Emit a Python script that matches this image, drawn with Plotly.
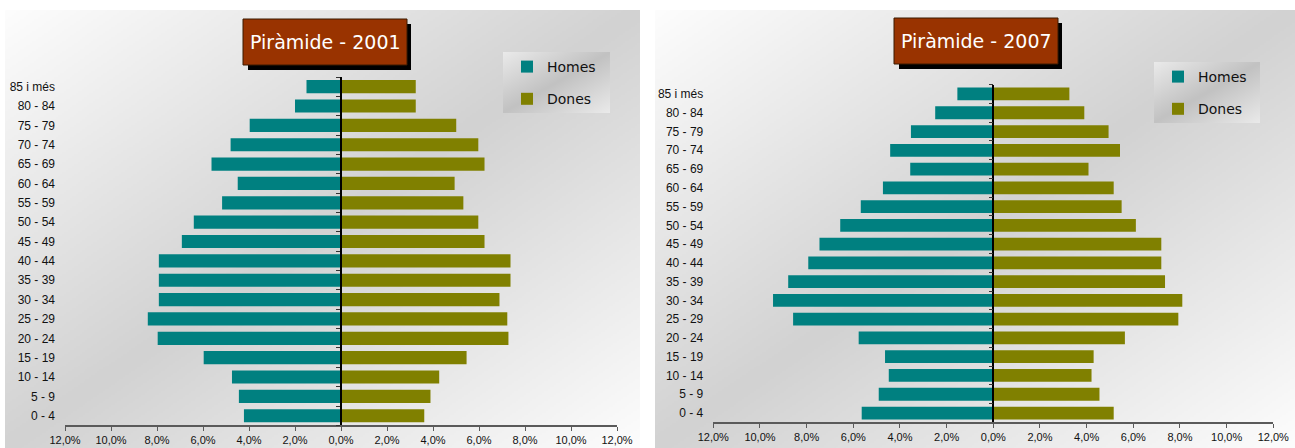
import base64
import struct
import zlib

import numpy as np
import plotly.graph_objects as go

# ---------------- data ----------------
ages = ["0 - 4", "5 - 9", "10 - 14", "15 - 19", "20 - 24", "25 - 29", "30 - 34",
        "35 - 39", "40 - 44", "45 - 49", "50 - 54", "55 - 59", "60 - 64", "65 - 69",
        "70 - 74", "75 - 79", "80 - 84", "85 i més"]

homes_2001 = [4.22, 4.44, 4.74, 5.97, 7.97, 8.40, 7.92, 7.92, 7.92, 6.92, 6.40, 5.17,
              4.49, 5.63, 4.80, 3.97, 2.00, 1.50]
dones_2001 = [3.62, 3.89, 4.27, 5.46, 7.28, 7.23, 6.89, 7.37, 7.37, 6.24, 5.97, 5.32,
              4.94, 6.24, 5.97, 5.01, 3.25, 3.25]

homes_2007 = [5.64, 4.91, 4.48, 4.64, 5.77, 8.58, 9.44, 8.79, 7.93, 7.45, 6.56, 5.68,
              4.73, 3.56, 4.42, 3.53, 2.49, 1.54]
dones_2007 = [5.16, 4.55, 4.21, 4.30, 5.64, 7.93, 8.10, 7.36, 7.20, 7.20, 6.11, 5.50,
              5.16, 4.08, 5.43, 4.94, 3.90, 3.26]

tick_vals = [-12, -10, -8, -6, -4, -2, 0, 2, 4, 6, 8, 10, 12]
tick_text = ["12,0%", "10,0%", "8,0%", "6,0%", "4,0%", "2,0%", "0,0%",
             "2,0%", "4,0%", "6,0%", "8,0%", "10,0%", "12,0%"]

titles = ["Piràmide - 2001", "Piràmide - 2007"]

# ---------------- styling ----------------
W, H = 1295, 448
C_HOMES = "#008080"
C_DONES = "#808000"
TITLE_BG = "#993300"
FONT = "Liberation Sans, Arial, sans-serif"
TFONT = "DejaVu Sans, Verdana, sans-serif"


def gradient_png(w, h, end, mid):
    u = np.linspace(0, 1, w)[None, :]
    v = np.linspace(0, 1, h)[:, None]
    t = (u + v) / 2.0
    k = 1 - np.abs(2 * t - 1)
    arr = (end - (end - mid) * k).clip(0, 255).astype(np.uint8)
    raw = b"".join(b"\x00" + row.tobytes() for row in arr)

    def chunk(tag, data):
        return (struct.pack(">I", len(data)) + tag + data
                + struct.pack(">I", zlib.crc32(tag + data) & 0xFFFFFFFF))

    ihdr = struct.pack(">IIBBBBB", w, h, 8, 0, 0, 0, 0)
    png = (b"\x89PNG\r\n\x1a\n" + chunk(b"IHDR", ihdr)
           + chunk(b"IDAT", zlib.compress(raw, 9)) + chunk(b"IEND", b""))
    return "data:image/png;base64," + base64.b64encode(png).decode()


def px(x):
    return x / W


def py(y):
    return 1 - y / H


panel_img = gradient_png(320, 220, 253, 210)
legend_img = gradient_png(107, 61, 234, 194)

# panel geometry (pixels)
panels = [
    dict(px0=5, px1=640, py0=10, xdom=(65, 617), ydom=(77.0, 425.4),
         title_box=(243, 407, 19, 65), legend_box=(503, 610, 52, 113)),
    dict(px0=655, px1=1295, py0=10, xdom=(713.3, 1273.3), ydom=(84.6, 422.4),
         title_box=(894, 1058, 18, 64), legend_box=(1154, 1260, 62, 123)),
]

series = [(homes_2001, dones_2001), (homes_2007, dones_2007)]

fig = go.Figure()
layout = dict(
    width=W, height=H,
    margin=dict(l=0, r=0, t=0, b=0, autoexpand=False),
    paper_bgcolor="white",
    plot_bgcolor="rgba(0,0,0,0)",
    barmode="overlay",
    bargap=0.32,
    showlegend=True,
    images=[], shapes=[], annotations=[],
    font=dict(family=FONT, size=12, color="black"),
)

for i, (p, (hom, don)) in enumerate(zip(panels, series)):
    xa = "x" if i == 0 else "x2"
    ya_lab = "y" if i == 0 else "y3"
    ya_mid = "y2" if i == 0 else "y4"
    xkey = "xaxis" if i == 0 else "xaxis2"
    ykey_lab = "yaxis" if i == 0 else "yaxis3"
    ykey_mid = "yaxis2" if i == 0 else "yaxis4"
    leg = "legend" if i == 0 else "legend2"

    xd = [px(p["xdom"][0]), px(p["xdom"][1])]
    yd = [py(p["ydom"][1]), py(p["ydom"][0])]

    fig.add_trace(go.Bar(
        y=ages, x=[-v for v in hom], orientation="h", name="Homes",
        marker=dict(color=C_HOMES, line=dict(width=0)),
        xaxis=xa, yaxis=ya_lab, legend=leg, legendgroup=f"h{i}", legendrank=1,
        hovertemplate="%{y}: %{customdata:.2f}%<extra>Homes</extra>",
        customdata=hom,
    ))
    fig.add_trace(go.Bar(
        y=ages, x=don, orientation="h", name="Dones",
        marker=dict(color=C_DONES, line=dict(width=0)),
        xaxis=xa, yaxis=ya_mid, legend=leg, legendgroup=f"d{i}", legendrank=2,
        hovertemplate="%{y}: %{x:.2f}%<extra>Dones</extra>",
    ))

    layout[xkey] = dict(
        domain=xd, range=[-12, 12], anchor=ya_lab, automargin=False,
        tickvals=tick_vals, ticktext=tick_text,
        showline=True, linecolor="#5a5a5a", linewidth=1.5,
        ticks="outside", ticklen=4, tickcolor="#5a5a5a", tickwidth=1,
        showgrid=False, zeroline=False,
        tickfont=dict(family=FONT, size=11, color="#111111"),
        fixedrange=True,
    )
    layout[ykey_lab] = dict(
        domain=yd, type="category", categoryorder="array", categoryarray=ages,
        range=[-0.5, len(ages) - 0.5], anchor=xa, automargin=False,
        showline=False, ticks="", showgrid=False, zeroline=False,
        ticklabelstandoff=9,
        tickfont=dict(family=FONT, size=12, color="#111111"),
        fixedrange=True,
    )
    layout[ykey_mid] = dict(
        domain=yd, type="category", categoryorder="array", categoryarray=ages,
        range=[-0.5, len(ages) - 0.5], anchor="free", overlaying=ya_lab,
        position=xd[0] + 0.5 * (xd[1] - xd[0]), automargin=False,
        showticklabels=False, showline=True, linecolor="black", linewidth=1.5,
        ticks="outside", tickson="boundaries", ticklen=4, tickcolor="#333333",
        showgrid=False, zeroline=False, fixedrange=True,
    )

    # panel gradient background
    layout["images"].append(dict(
        source=panel_img, xref="paper", yref="paper",
        x=px(p["px0"]), y=py(p["py0"]), sizex=px(p["px1"] - p["px0"]),
        sizey=(H - p["py0"]) / H, xanchor="left", yanchor="top",
        sizing="stretch", layer="below",
    ))
    # legend gradient box
    lx0, lx1, ly0, ly1 = p["legend_box"]
    layout["images"].append(dict(
        source=legend_img, xref="paper", yref="paper",
        x=px(lx0), y=py(ly0), sizex=px(lx1 - lx0), sizey=(ly1 - ly0) / H,
        xanchor="left", yanchor="top", sizing="stretch", layer="below",
    ))
    layout[leg] = dict(
        x=px(lx0 + 4), y=py(ly0 - 1), xanchor="left", yanchor="top",
        bgcolor="rgba(0,0,0,0)", borderwidth=0,
        font=dict(family=TFONT, size=14, color="#111111"),
        tracegroupgap=11, itemclick=False, itemdoubleclick=False,
        itemwidth=30,
    )

    # title box with shadow
    tx0, tx1, ty0, ty1 = p["title_box"]
    layout["shapes"].append(dict(
        type="rect", xref="paper", yref="paper",
        x0=px(tx0 + 5), x1=px(tx1 + 4), y0=py(ty1 + 5), y1=py(ty0 + 5),
        fillcolor="black", line=dict(width=0), layer="above",
    ))
    layout["shapes"].append(dict(
        type="rect", xref="paper", yref="paper",
        x0=px(tx0), x1=px(tx1), y0=py(ty1), y1=py(ty0),
        fillcolor=TITLE_BG, line=dict(color="#3a1a00", width=1), layer="above",
    ))
    layout["annotations"].append(dict(
        text=titles[i], xref="paper", yref="paper",
        x=px((tx0 + tx1) / 2), y=py((ty0 + ty1) / 2),
        xanchor="center", yanchor="middle", showarrow=False,
        font=dict(family=TFONT, size=19, color="white"),
    ))

fig.update_layout(**layout)
fig.write_html(
    "out.html",
    config={"displayModeBar": False},
    post_script="document.body.style.margin='0px';document.body.style.overflow='hidden';",
)
